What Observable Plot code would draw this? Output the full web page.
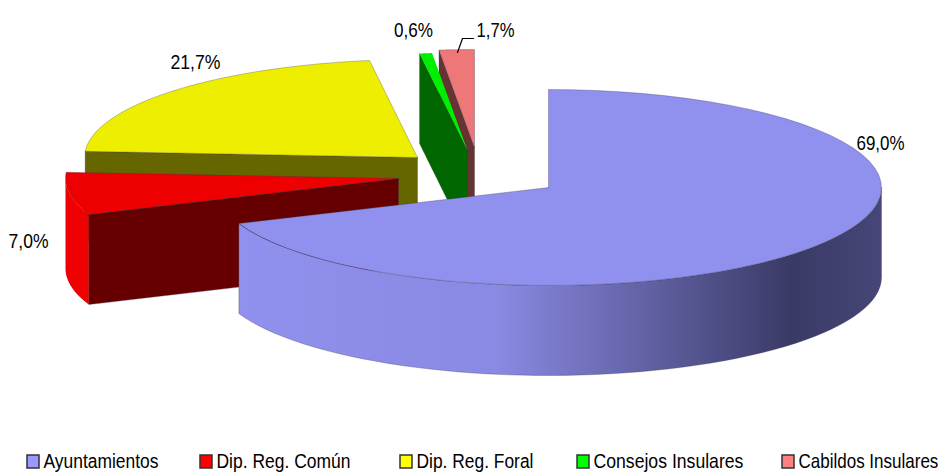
<!DOCTYPE html>
<html>
<head>
<meta charset="utf-8">
<style>html,body{margin:0;padding:0;background:#fff}svg{display:block}</style>
<script src="https://cdn.jsdelivr.net/npm/d3@7"></script>
<script src="https://cdn.jsdelivr.net/npm/@observablehq/plot@0.6"></script>
</head>
<body>
<div id="chart"></div>
<script>
const categories = ["Ayuntamientos", "Dip. Reg. Común", "Dip. Reg. Foral", "Consejos Insulares", "Cabildos Insulares"];
const shares = [69.0, 7.0, 21.7, 0.6, 1.7];
const shareLabels = ["69,0%", "7,0%", "21,7%", "0,6%", "1,7%"];
const topColors = ["#9090EE", "#EE0000", "#EEEE00", "#00EE00", "#EE7777"];
const sideColors = ["url(#blueSide)", "#660000", "#666600", "#006600", "#663333"];
const legendColors = ["#9999FF", "#FF0000", "#FFFF00", "#00FF00", "#FF8080"];

// layout of the exploded pie (page units)
const centerX = [548, 398, 417, 467, 474];
const centerY = [187, 178, 157, 150, 147];
const radiusX = 333, radiusY = 98, depth = 90;
const labelX = [880, 28, 195, 413, 495];
const labelY = [143, 241, 62, 30, 30];
const labelWidths = [48, 40, 50, 39, 38];
const legendX = [27, 200, 400, 577, 782];
const legendWidths = [115, 134, 117, 150, 140];
const legendY = 461;
const leaderX = [457, 462, 473];
const leaderY = [52, 38, 38];

// slice angles come from the shares, clockwise from twelve o'clock
const total = d3.sum(shares);
let acc = 0;
const slices = shares.map((v, i) => {
  const a0 = acc / total * 2 * Math.PI;
  acc += v;
  return {i, a0, a1: acc / total * 2 * Math.PI};
});
const pt = (i, a, dz = 0) => [centerX[i] + radiusX * Math.sin(a), centerY[i] - radiusY * Math.cos(a) + dz];
const arc = (i, a0, a1, dz = 0) => d3.range(0, 61).map(k => pt(i, a0 + (a1 - a0) * k / 60, dz));
const center = (i, dz = 0) => [centerX[i], centerY[i] + dz];

const topFace = s => [center(s.i), ...arc(s.i, s.a0, s.a1), center(s.i)];
const radialFace = (s, a) => [center(s.i), pt(s.i, a), pt(s.i, a, depth), center(s.i, depth), center(s.i)];
const rimFace = (s, a0, a1) => [...arc(s.i, a0, a1), ...arc(s.i, a1, a0, depth), pt(s.i, a0)];

const edge = {stroke: "#33334d", strokeWidth: 0.6, strokeOpacity: 0.5};
const noEdge = {stroke: "none"};
const poly = (pts, fill, extra = edge) => Plot.line(pts, {x: d => d[0], y: d => d[1], fill, curve: "linear", ...extra});

const [blue, red, yellow, green, pink] = slices;
const polys = [
  // back to front
  poly(radialFace(yellow, yellow.a0), sideColors[2]),
  poly(topFace(yellow), topColors[2]),
  poly(radialFace(pink, pink.a0), sideColors[4]),
  poly(topFace(pink), topColors[4]),
  poly(radialFace(green, green.a0), sideColors[3]),
  poly(topFace(green), topColors[3], noEdge),
  poly(rimFace(red, red.a0, 1.5 * Math.PI), topColors[1], noEdge),
  poly(radialFace(red, red.a0), sideColors[1]),
  poly(topFace(red), topColors[1]),
  poly(rimFace(blue, 0.5 * Math.PI, blue.a1), sideColors[0]),
  poly(topFace(blue), topColors[0])
];

const gradient = () => {
  const svg = d3.create("svg:g");
  const g = svg.append("defs").append("linearGradient")
    .attr("id", "blueSide").attr("gradientUnits", "userSpaceOnUse")
    .attr("x1", 238).attr("x2", 881).attr("y1", 0).attr("y2", 0);
  [[0, "#9090EE"], [0.4, "#8A8AE4"], [0.86, "#3A3A66"], [1, "#464678"]]
    .forEach(([o, c]) => g.append("stop").attr("offset", o).attr("stop-color", c));
  return svg.node();
};

const font = {fontFamily: "'Liberation Sans',Arial,sans-serif", fontSize: 20, fill: "#000"};
const labelRows = shareLabels.map((t, i) => ({t, x: labelX[i], y: labelY[i]}));
const legendRows = categories.map((t, i) => ({t, x: legendX[i], c: legendColors[i]}));

const chart = Plot.plot({
  width: 944, height: 473,
  margin: 0,
  x: {type: "linear", domain: [0, 944], range: [0, 944], axis: null},
  y: {type: "linear", domain: [0, 473], range: [0, 473], axis: null},
  style: {background: "#fff"},
  marks: [
    gradient,
    ...polys,
    Plot.text(labelRows, {x: "x", y: "y", text: "t", ...font}),
    Plot.line(leaderX.map((x, i) => [x, leaderY[i]]), {x: d => d[0], y: d => d[1], stroke: "#000", strokeWidth: 1.2}),
    Plot.rect(legendRows, {x1: "x", x2: d => d.x + 12, y1: legendY - 6, y2: legendY + 7, fill: d => d.c, stroke: "#333", strokeWidth: 1.5}),
    Plot.text(legendRows, {x: d => d.x + 16, y: legendY, text: "t", textAnchor: "start", ...font})
  ]
});
document.getElementById("chart").appendChild(chart);

// the reference uses a condensed face: squeeze each real text horizontally to its measured width
const widthOf = new Map([
  ...shareLabels.map((t, i) => [t, labelWidths[i]]),
  ...categories.map((t, i) => [t, legendWidths[i]])
]);
chart.querySelectorAll("text").forEach(el => {
  const w = widthOf.get(el.textContent);
  if (w) {
    const sx = w / el.getComputedTextLength();
    el.setAttribute("transform", `${el.getAttribute("transform") || ""} scale(${sx},1)`);
  }
});
</script>
</body>
</html>
